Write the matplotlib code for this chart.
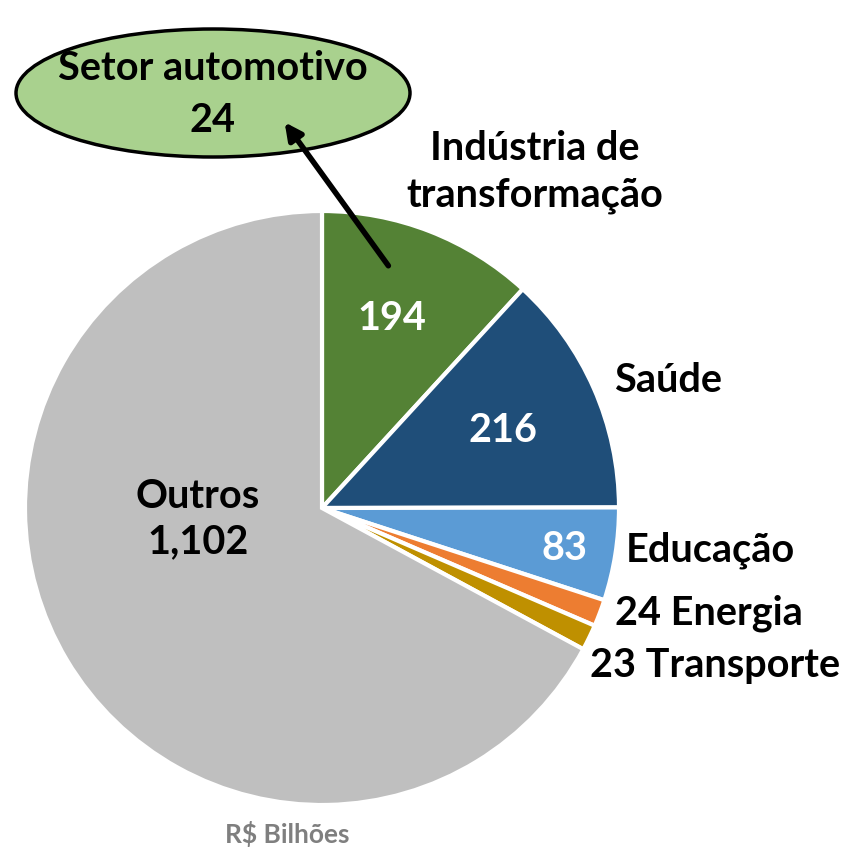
import matplotlib.pyplot as plt
from matplotlib.patches import Ellipse

# Data (R$ bilhões)
sectors = ["Indústria de\ntransformação", "Saúde", "Educação", "Energia", "Transporte", "Outros"]
values = [194, 216, 83, 24, 23, 1102]
value_labels = ["194", "216", "83", "24", "23", "1,102"]
colors = ["#548235", "#1F4E79", "#5B9BD5", "#ED7D31", "#BF9000", "#BFBFBF"]
auto_label = "Setor automotivo"
auto_value = "24"

W, H = 841, 848
plt.rcParams["font.family"] = ["Lato", "DejaVu Sans"]

fig = plt.figure(figsize=(W / 100, H / 100), dpi=100)
ax = fig.add_axes([0, 0, 1, 1])

cx, cy, r = 322, H - 508, 297
ax.pie(
    values,
    colors=colors,
    startangle=90,
    counterclock=False,
    center=(cx, cy),
    radius=r,
    frame=True,
    wedgeprops=dict(edgecolor="white", linewidth=3),
)
ax.set_xlim(0, W)
ax.set_ylim(0, H)
ax.set_aspect("equal")
ax.axis("off")

fs = 28.5
kw = dict(fontsize=fs, fontweight="bold", ha="center", va="center")

# labels inside wedges
ax.text(392, H - 318, value_labels[0], color="white", **kw)
ax.text(503, H - 430, value_labels[1], color="white", **kw)
ax.text(565, H - 548, value_labels[2], color="white", **kw)
ax.text(198, H - 519, "Outros\n" + value_labels[5], color="black", linespacing=1.3, **kw)

# outside labels
ax.text(535, H - 172, sectors[0], color="black", linespacing=1.3, **kw)
ax.text(668, H - 380, sectors[1], color="black", **kw)
ax.text(710, H - 550, sectors[2], color="black", **kw)
ax.text(709, H - 613, f"{value_labels[3]} {sectors[3]}", color="black", **kw)
ax.text(715, H - 665, f"{value_labels[4]} {sectors[4]}", color="black", **kw)

ax.text(287, H - 834, "R$ Bilhões", color="#7F7F7F", fontsize=19, fontweight="bold",
        ha="center", va="center")

# callout for automotive sector
ell = Ellipse((213, H - 93), 394, 128, facecolor="#A9D18E", edgecolor="black", linewidth=2.5, zorder=3)
ax.add_patch(ell)
ax.text(213, H - 95, f"{auto_label}\n{auto_value}", color="black", linespacing=1.5, zorder=4, **kw)
ax.annotate(
    "",
    xy=(283, H - 120),
    xytext=(390, H - 268),
    arrowprops=dict(arrowstyle="-|>,head_width=0.5,head_length=1.0", color="black", lw=4),
    zorder=5,
)

fig.savefig("out.png", dpi=100)
